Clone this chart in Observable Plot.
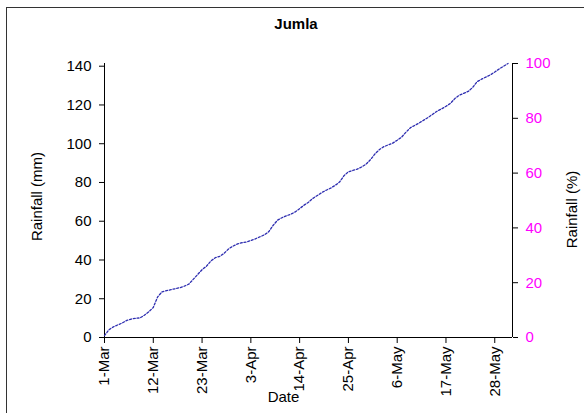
<!DOCTYPE html>
<html><head><meta charset="utf-8">
<script src="https://cdn.jsdelivr.net/npm/d3@7"></script>
<script src="https://cdn.jsdelivr.net/npm/@observablehq/plot@0.6"></script>
<style>
body{margin:0;background:#fff;font-family:"Liberation Sans",Arial,sans-serif;}
#wrap{position:relative;width:584px;height:413px;overflow:hidden;background:#fff;}
#chart{position:absolute;left:0;top:0;}
#frame{position:absolute;left:6px;top:7px;width:640px;height:520px;border:1px solid #333;box-sizing:border-box;pointer-events:none;}
#title{position:absolute;left:0;width:592px;top:15px;text-align:center;font-weight:bold;font-size:15px;line-height:17px;}
</style></head><body>
<div id="wrap"><div id="chart"></div><div id="frame"></div><div id="title">Jumla</div></div>
<script>
const startDate = "2009-03-01";
const endDate = "2009-06-01";
// cumulative rainfall (mm), one value per day from 1-Mar to 31-May
const cumRainMm = [
  1.0, 4.0, 5.5, 6.5, 7.5, 8.8, 9.5, 9.9, 10.1, 11.5,
  13.3, 15.5, 21.0, 23.6, 24.2, 24.7, 25.2, 25.7, 26.5, 27.5,
  30.0, 32.5, 35.0, 36.8, 39.5, 41.2, 41.9, 43.5, 45.8, 47.2,
  48.3, 48.9, 49.3, 50.0, 50.9, 51.9, 52.9, 54.5, 57.8, 60.5,
  61.8, 62.8, 63.6, 64.8, 66.5, 68.3, 69.8, 71.8, 73.3, 74.8,
  76.0, 77.1, 78.5, 80.2, 83.5, 85.5, 86.2, 86.9, 88.0, 89.5,
  91.8, 94.8, 97.0, 98.5, 99.4, 100.3, 101.8, 103.4, 106.0, 108.3,
  109.5, 110.8, 112.2, 113.6, 115.2, 116.8, 118.0, 119.3, 120.8, 123.3,
  125.0, 126.0, 127.0, 129.0, 132.0, 133.3, 134.4, 135.5, 137.0, 138.6,
  140.0, 141.4
];
const xTickDates = ["2009-03-01","2009-03-12","2009-03-23","2009-04-03","2009-04-14","2009-04-25","2009-05-06","2009-05-17","2009-05-28"];
const yTicksMm = [0, 20, 40, 60, 80, 100, 120, 140];
const yTicksPct = [0, 20, 40, 60, 80, 100];
const titleText = "Jumla";
const yLabelLeft = "Rainfall (mm)";
const yLabelRight = "Rainfall (%)";
const xLabel = "Date";
const lineColor = "#2e2eb0";
const pctColor = "#ff00ff";

const parse = d3.utcParse("%Y-%m-%d");
const t0 = parse(startDate);
const t1 = parse(endDate);
const data = cumRainMm.map((v, i) => ({date: d3.utcDay.offset(t0, i), v}));
const total = cumRainMm[cumRainMm.length - 1];
const fmt = d3.utcFormat("%-d-%b");
const font = "'Liberation Sans', Arial, sans-serif";

const chart = Plot.plot({
  width: 584, height: 413,
  marginLeft: 104, marginRight: 72, marginTop: 63, marginBottom: 76,
  style: {fontFamily: font, fontSize: "15px", color: "black", background: "transparent", overflow: "visible"},
  x: {type: "utc", domain: [t0, t1]},
  y: {domain: [0, total]},
  marks: [
    Plot.axisY({ticks: yTicksMm, tickSize: 5, tickPadding: 8, tickFormat: d => String(d), label: null, fontSize: 15}),
    Plot.axisY({anchor: "right", ticks: yTicksPct.map(p => p * total / 100), tickFormat: d => String(Math.round(d / total * 100)), fill: pctColor, stroke: "black", tickSize: 5, tickPadding: 8, label: null, fontSize: 15}),
    Plot.axisX({ticks: xTickDates.map(parse), tickFormat: fmt, tickRotate: -90, tickSize: 6, tickPadding: 3, label: null, fontSize: 15}),
    Plot.ruleX([t0], {stroke: "black"}),
    Plot.ruleX([t1], {stroke: "black"}),
    Plot.ruleY([0], {stroke: "black"}),
    Plot.line(data, {x: "date", y: "v", stroke: lineColor, strokeWidth: 1.3, strokeDasharray: "2,1.8"}),
    Plot.text([yLabelLeft], {frameAnchor: "left", textAnchor: "middle", rotate: -90, dx: -67, dy: -4, fontSize: 15, fill: "black"}),
    Plot.text([yLabelRight], {frameAnchor: "right", textAnchor: "middle", rotate: -90, dx: 60, dy: 9, fontSize: 15, fill: "black"}),
    Plot.text([xLabel], {frameAnchor: "bottom", dx: -25, dy: 64, fontSize: 15, fill: "black"})
  ]
});
document.getElementById("chart").append(chart);
document.getElementById("title").textContent = titleText;
</script>
</body></html>
